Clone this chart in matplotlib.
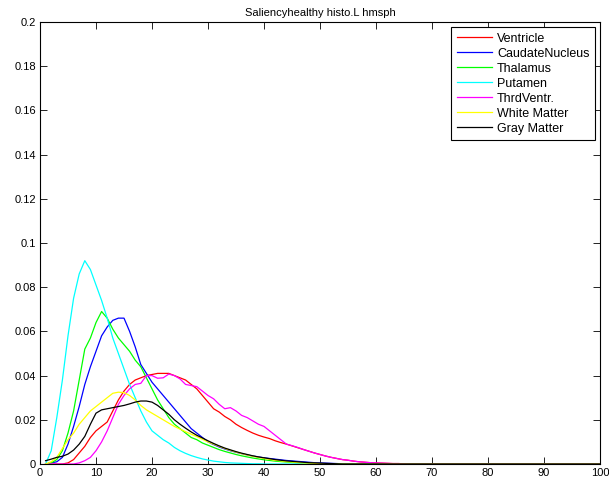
import numpy as np
import matplotlib.pyplot as plt

plt.rcParams['font.family'] = ['Liberation Sans', 'DejaVu Sans']

# ── Histogram values (bin 1..100) ─────────────────────────────────────────────
N_BINS = 100
x = np.arange(1, N_BINS + 1)

ventricle = [0, 0, 0, 0, 0.0005, 0.002, 0.005, 0.008, 0.012, 0.015,
             0.017, 0.019, 0.024, 0.029, 0.033, 0.036, 0.038, 0.039, 0.040, 0.0405,
             0.041, 0.041, 0.041, 0.040, 0.039, 0.038, 0.036, 0.034, 0.031, 0.028,
             0.025, 0.0235, 0.0215, 0.020, 0.018, 0.0165, 0.0152, 0.014, 0.013, 0.0122,
             0.0115, 0.0105, 0.0097, 0.009, 0.0082, 0.0074, 0.0066, 0.0058, 0.005, 0.0043,
             0.0036, 0.003, 0.0025, 0.002, 0.0017, 0.0013, 0.001, 0.0008, 0.0006, 0.0005,
             0.0004, 0.0003, 0.0002, 0.0002, 0.0001]

caudate = [0, 0.0005, 0.001, 0.003, 0.009, 0.017, 0.026, 0.036, 0.044, 0.051,
           0.058, 0.062, 0.065, 0.066, 0.066, 0.060, 0.053, 0.045, 0.041, 0.037,
           0.034, 0.031, 0.028, 0.025, 0.022, 0.019, 0.016, 0.014, 0.012, 0.010,
           0.0088, 0.0077, 0.0068, 0.006, 0.0053, 0.0047, 0.0041, 0.0036, 0.0032, 0.0028,
           0.0025, 0.0022, 0.0019, 0.0016, 0.0014, 0.0012, 0.001, 0.0008, 0.0006, 0.0005,
           0.0004, 0.0003, 0.0002, 0.0001]

thalamus = [0, 0.0005, 0.002, 0.006, 0.014, 0.024, 0.038, 0.052, 0.057, 0.064,
            0.069, 0.066, 0.061, 0.057, 0.054, 0.051, 0.047, 0.044, 0.039, 0.034,
            0.029, 0.025, 0.021, 0.018, 0.016, 0.014, 0.012, 0.011, 0.0095, 0.0085,
            0.0075, 0.0065, 0.0057, 0.005, 0.0043, 0.0037, 0.0032, 0.0027, 0.0023, 0.0019,
            0.0016, 0.0013, 0.0011, 0.0009, 0.0007, 0.0005, 0.0004, 0.0003, 0.0002, 0.0001]

putamen = [0, 0.006, 0.021, 0.038, 0.058, 0.075, 0.086, 0.092, 0.088, 0.081,
           0.074, 0.066, 0.057, 0.050, 0.043, 0.036, 0.030, 0.024, 0.019, 0.015,
           0.013, 0.011, 0.0095, 0.0075, 0.006, 0.0048, 0.0038, 0.003, 0.0023, 0.0018,
           0.0013, 0.001, 0.0007, 0.0005, 0.0004, 0.0003, 0.0002, 0.0001, 0.0001]

thrdventr = [0, 0, 0, 0, 0, 0, 0.0005, 0.0015, 0.003, 0.006,
             0.010, 0.015, 0.021, 0.027, 0.031, 0.034, 0.036, 0.0365, 0.040, 0.040,
             0.0388, 0.039, 0.0407, 0.040, 0.0385, 0.036, 0.0355, 0.035, 0.033, 0.031,
             0.0295, 0.027, 0.025, 0.0255, 0.024, 0.022, 0.021, 0.0195, 0.018, 0.017,
             0.015, 0.013, 0.011, 0.009, 0.0083, 0.0075, 0.0066, 0.0058, 0.005, 0.0043,
             0.0036, 0.003, 0.0025, 0.002, 0.0017, 0.0013, 0.001, 0.0008, 0.0006, 0.0005,
             0.0004, 0.0003, 0.0002, 0.0002, 0.0001]

white_matter = [0, 0.001, 0.003, 0.007, 0.011, 0.014, 0.018, 0.021, 0.024, 0.026,
                0.028, 0.030, 0.032, 0.0325, 0.0323, 0.031, 0.029, 0.0265, 0.0245, 0.023,
                0.0215, 0.020, 0.0185, 0.017, 0.0158, 0.0146, 0.0135, 0.0124, 0.0112, 0.010,
                0.009, 0.008, 0.007, 0.0062, 0.0054, 0.0047, 0.0041, 0.0035, 0.003, 0.0025,
                0.0021, 0.0017, 0.0014, 0.0011, 0.0009, 0.0007, 0.0005, 0.0004, 0.0003, 0.0002,
                0.0001]

gray_matter = [0.0015, 0.0022, 0.003, 0.0035, 0.0045, 0.0063, 0.009, 0.0125, 0.018, 0.023,
               0.0245, 0.025, 0.0255, 0.026, 0.0265, 0.0272, 0.028, 0.0285, 0.0285, 0.028,
               0.0265, 0.0245, 0.0225, 0.020, 0.018, 0.0162, 0.0145, 0.013, 0.0118, 0.0105,
               0.0093, 0.0082, 0.0072, 0.0064, 0.0056, 0.0049, 0.0043, 0.0037, 0.0032, 0.0028,
               0.0024, 0.002, 0.0017, 0.0014, 0.0012, 0.001, 0.0008, 0.0006, 0.0005, 0.0004,
               0.0003, 0.0002, 0.0001]

labels = ['Ventricle', 'CaudateNucleus', 'Thalamus', 'Putamen',
          'ThrdVentr.', 'White Matter', 'Gray Matter']
colors = ['#ff0000', '#0000ff', '#00ff00', '#00ffff', '#ff00ff', '#ffff00', '#000000']
series = [ventricle, caudate, thalamus, putamen, thrdventr, white_matter, gray_matter]


def pad(vals):
    # remaining bins are empty
    return np.concatenate([vals, np.zeros(N_BINS - len(vals))])


# ── Plot ──────────────────────────────────────────────────────────────────────
fig = plt.figure(figsize=(6.09, 4.84), dpi=100)
ax = fig.add_axes([40 / 609, 20 / 484, 560 / 609, 442 / 484])

for vals, lab, col in zip(series, labels, colors):
    ax.plot(x, pad(vals), color=col, linewidth=0.9, label=lab)

ax.set_xlim(0, 100)
ax.set_ylim(0, 0.2)
ax.set_xticks(np.arange(0, 101, 10))
ax.set_yticks(np.arange(0, 0.201, 0.02))
ax.set_yticklabels(['0', '0.02', '0.04', '0.06', '0.08', '0.1',
                    '0.12', '0.14', '0.16', '0.18', '0.2'])
ax.tick_params(direction='in', top=True, right=True, labelsize=8,
               length=5, width=0.6, pad=3)
for sp in ax.spines.values():
    sp.set_linewidth(0.8)
ax.set_title('Saliencyhealthy histo.L hmsph', fontsize=8, pad=4)

leg = ax.legend(loc='upper right', fontsize=9, frameon=True, fancybox=False,
                edgecolor='black', framealpha=1, handlelength=2.8,
                labelspacing=0.24, borderpad=0.45, handletextpad=0.4,
                borderaxespad=0.4)
leg.get_frame().set_linewidth(0.8)

plt.savefig('out.png', dpi=100)
